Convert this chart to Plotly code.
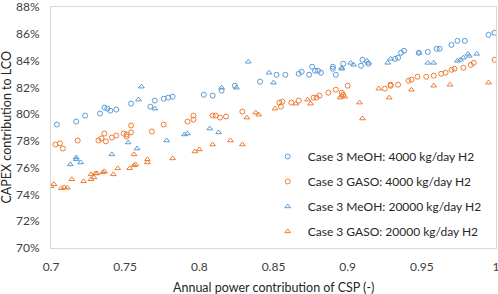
import plotly.graph_objects as go

# Case 3 MeOH: 4000 kg/day H2
meoh4000_x = [0.704, 0.717, 0.723, 0.733, 0.736, 0.738, 0.740, 0.744, 0.754, 0.767, 0.770,
              0.776, 0.779, 0.782, 0.803, 0.809, 0.815, 0.824, 0.841, 0.852, 0.858, 0.867,
              0.869, 0.874, 0.876, 0.878, 0.880, 0.882, 0.890, 0.890, 0.892, 0.897, 0.909,
              0.910, 0.914, 0.932, 0.934, 0.936, 0.938, 0.948, 0.954, 0.960, 0.962, 0.970,
              0.974, 0.979, 0.995, 0.999]
meoh4000_y = [79.22, 79.44, 79.89, 80.04, 80.49, 80.41, 80.26, 80.34, 80.78, 80.56, 81.01,
              81.15, 81.23, 81.30, 81.45, 81.38, 81.75, 82.12, 82.42, 82.94, 82.94, 83.01,
              83.16, 82.94, 83.54, 83.24, 83.24, 83.09, 83.54, 83.39, 82.94, 83.76, 83.61,
              84.06, 83.76, 84.13, 84.21, 84.58, 84.73, 84.58, 84.65, 84.88, 84.88, 85.17,
              85.47, 85.47, 85.92, 86.07]

# Case 3 GASO: 4000 kg/day H2
gaso4000_x = [0.703, 0.706, 0.708, 0.718, 0.732, 0.734, 0.736, 0.737, 0.741, 0.744, 0.749,
              0.751, 0.751, 0.754, 0.754, 0.768, 0.776, 0.792, 0.796, 0.796, 0.809, 0.811,
              0.814, 0.818, 0.829, 0.854, 0.855, 0.856, 0.862, 0.867, 0.877, 0.879, 0.881,
              0.887, 0.892, 0.896, 0.897, 0.900, 0.925, 0.929, 0.929, 0.934, 0.941, 0.943,
              0.947, 0.953, 0.958, 0.963, 0.966, 0.970, 0.972, 0.978, 0.983, 0.985, 0.999]
gaso4000_y = [77.73, 77.81, 77.43, 78.03, 78.03, 78.18, 78.55, 77.96, 78.25, 78.40, 78.55,
              78.48, 78.33, 78.63, 79.15, 78.70, 79.22, 79.44, 79.89, 79.59, 79.89, 79.89,
              79.74, 79.82, 80.19, 80.86, 80.56, 80.93, 80.86, 81.01, 81.23, 81.23, 81.38,
              81.60, 81.82, 81.60, 81.45, 82.12, 81.90, 82.20, 82.12, 82.20, 82.49, 82.57,
              82.79, 82.79, 82.87, 83.01, 83.09, 83.31, 83.39, 83.46, 83.68, 83.83, 84.06]

# Case 3 MeOH: 20000 kg/day H2
meoh20000_x = [0.713, 0.717, 0.717, 0.720, 0.741, 0.752, 0.758, 0.759, 0.761, 0.770, 0.778,
               0.790, 0.792, 0.807, 0.813, 0.815, 0.825, 0.833, 0.847, 0.850, 0.896, 0.896,
               0.902, 0.904, 0.913, 0.914, 0.927, 0.929, 0.948, 0.954, 0.958, 0.974, 0.976,
               0.978, 0.981, 0.982, 0.987]
meoh20000_y = [76.24, 76.76, 76.62, 76.39, 76.99, 77.88, 77.43, 81.08, 82.05, 80.41, 78.03,
               78.48, 78.55, 78.92, 78.63, 81.97, 81.97, 83.91, 83.09, 82.35, 83.39, 83.46,
               83.83, 83.68, 83.98, 83.83, 83.83, 84.13, 84.58, 83.83, 83.83, 83.98, 84.06,
               84.21, 84.50, 84.35, 84.50]

# Case 3 GASO: 20000 kg/day H2
gaso20000_x = [0.700, 0.702, 0.707, 0.709, 0.711, 0.714, 0.722, 0.727, 0.727, 0.729, 0.730,
               0.731, 0.735, 0.736, 0.742, 0.745, 0.753, 0.756, 0.756, 0.757, 0.765, 0.765,
               0.782, 0.797, 0.800, 0.809, 0.821, 0.829, 0.832, 0.838, 0.840, 0.851, 0.865,
               0.873, 0.875, 0.895, 0.896, 0.898, 0.908, 0.910, 0.921, 0.928, 0.943, 0.958,
               0.969, 0.995]
gaso20000_y = [74.61, 74.76, 74.46, 74.53, 74.50, 75.13, 74.98, 75.13, 75.50, 75.27, 75.57,
               75.57, 75.65, 75.72, 75.50, 75.95, 75.95, 76.99, 76.17, 76.24, 76.39, 76.62,
               76.69, 77.21, 77.36, 77.73, 78.03, 77.73, 79.74, 80.11, 79.96, 80.41, 80.78,
               81.08, 80.78, 81.23, 81.38, 81.30, 80.86, 79.67, 81.90, 81.23, 81.82, 82.12,
               82.20, 82.35]

series_names = ["Case 3 MeOH: 4000 kg/day H2", "Case 3 GASO: 4000 kg/day H2",
                "Case 3 MeOH: 20000 kg/day H2", "Case 3 GASO: 20000 kg/day H2"]

x_ticks = [0.7, 0.75, 0.8, 0.85, 0.9, 0.95, 1.0]
x_ticktext = ["0.7", "0.75", "0.8", "0.85", "0.9", "0.95", "1"]
y_ticks = [70, 72, 74, 76, 78, 80, 82, 84, 86, 88]
y_ticktext = ["70%", "72%", "74%", "76%", "78%", "80%", "82%", "84%", "86%", "88%"]

BLUE = "#5B9BD5"
ORANGE = "#ED7D31"
FONT = "Lato"
TXT = "#404040"

fig = go.Figure()
specs = [
    (meoh4000_x, meoh4000_y, "circle-open", BLUE),
    (gaso4000_x, gaso4000_y, "circle-open", ORANGE),
    (meoh20000_x, meoh20000_y, "triangle-up-open", BLUE),
    (gaso20000_x, gaso20000_y, "triangle-up-open", ORANGE),
]
for i, (xs, ys, sym, col) in enumerate(specs):
    fig.add_trace(go.Scatter(
        x=xs, y=ys, mode="markers", name=series_names[i], legendgroup=str(i),
        marker=dict(symbol=sym, size=5, color=col, line=dict(width=1, color=col)),
    ))

fig.update_layout(
    width=498, height=294,
    margin=dict(l=51, r=2, t=7, b=46, autoexpand=False),
    paper_bgcolor="white", plot_bgcolor="white",
    font=dict(family=FONT, size=12, color=TXT),
    showlegend=True,
    legend=dict(x=0.487, y=0.44, xanchor="left", yanchor="top",
                bgcolor="white", borderwidth=0, tracegroupgap=6, itemwidth=30,
                font=dict(family=FONT, size=12, color="#262626")),
    annotations=[
        dict(text="Annual power contribution of CSP (-)", xref="paper", yref="paper",
             x=0.5, y=-0.162, xanchor="center", yanchor="middle", showarrow=False,
             font=dict(family=FONT, size=12.5, color="#262626")),
        dict(text="CAPEX contribution to LCO", xref="paper", yref="paper",
             x=-0.101, y=0.5, xanchor="center", yanchor="middle", showarrow=False,
             textangle=-90, font=dict(family=FONT, size=12.5, color="#262626")),
    ],
)
fig.update_xaxes(range=[0.7, 1.0], tickmode="array", tickvals=x_ticks, ticktext=x_ticktext,
                 showgrid=False, zeroline=False, showline=True, mirror=True,
                 linecolor="#D9D9D9", linewidth=1, ticks="", ticklabelstandoff=8,
                 ticklabeloverflow="allow",
                 tickfont=dict(family=FONT, size=12, color=TXT))
fig.update_yaxes(range=[70, 88], tickmode="array", tickvals=y_ticks, ticktext=y_ticktext,
                 showgrid=False, zeroline=False, showline=True, mirror=True,
                 linecolor="#D9D9D9", linewidth=1, ticks="", ticklabelstandoff=8,
                 ticklabeloverflow="allow",
                 tickfont=dict(family=FONT, size=12, color=TXT))

fig.write_html("out.html", config={"displayModeBar": False},
               post_script="document.body.style.margin='0';")
